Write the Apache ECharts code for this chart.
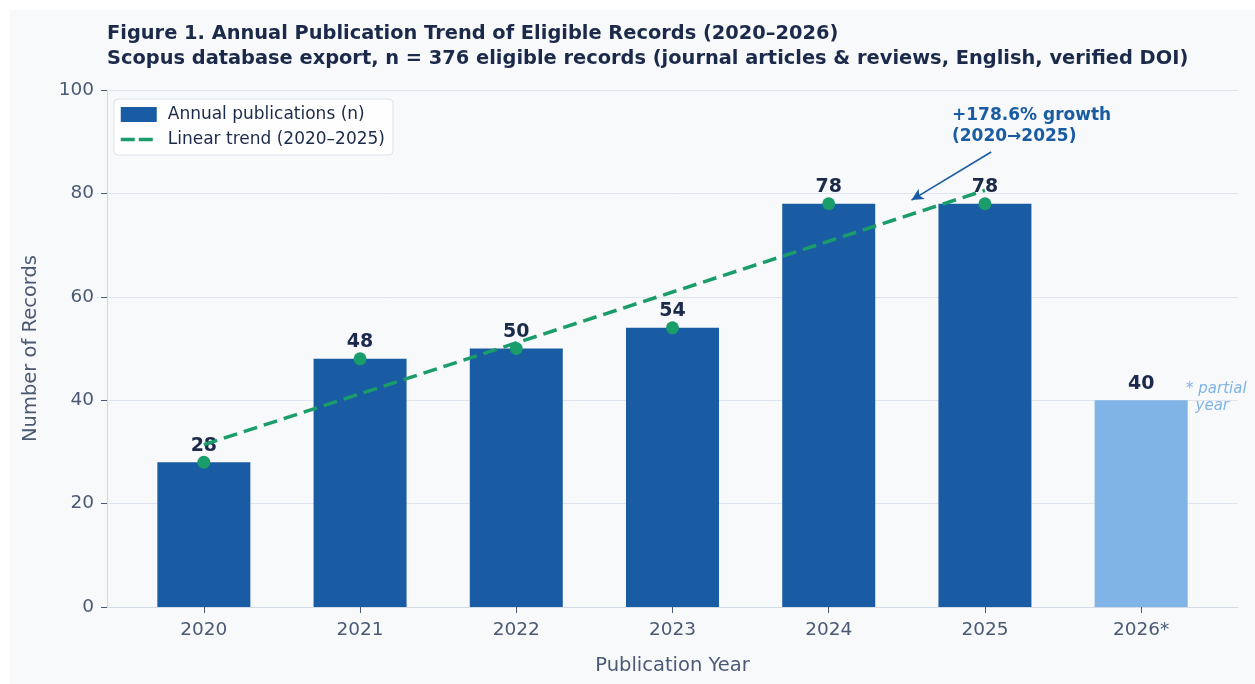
<!DOCTYPE html>
<html>
<head>
<meta charset="utf-8">
<script src="https://cdn.jsdelivr.net/npm/echarts@6/dist/echarts.min.js"></script>
<style>
  html, body { margin: 0; padding: 0; background: #ffffff; }
  #chart { position: absolute; left: 10px; top: 10px; width: 1245px; height: 674px; background: #f8f9fa; }
</style>
</head>
<body>
<div id="chart"></div>
<script>
// data
const years = ['2020', '2021', '2022', '2023', '2024', '2025', '2026*']
const records = [28, 48, 50, 54, 78, 78, 40]
const partialIndex = 6
// linear trend end points (2020 and 2025)
const trendPoints = [[0, 31.4], [5, 80.6]]
// growth arrow, tail and head in data coords
const arrowFrom = [5.04, 88.0]
const arrowTo = [4.53, 78.7]

const font = 'DejaVu Sans'
const navy = '#1b2a4a'
const tickGrey = '#4a5a75'
const blue = '#1a5ca3'
const lightBlue = '#80b4e6'
const green = '#1a9c6b'

let myChart = echarts.init(document.getElementById('chart'))

let barData = records.map((v, i) => ({
  value: [i, v],
  itemStyle: { color: i === partialIndex ? lightBlue : blue }
}))
let dotData = records.slice(0, partialIndex).map((v, i) => [i, v])
let tickValues = years.map((y, i) => i)

myChart.setOption({
  backgroundColor: '#f8f9fa',
  textStyle: { fontFamily: font },
  animation: false,
  title: {
    left: 92,
    top: 6,
    text: 'Figure 1. Annual Publication Trend of Eligible Records (2020–2026)\nScopus database export, n = 376 eligible records (journal articles & reviews, English, verified DOI)',
    textStyle: {
      fontFamily: font,
      fontSize: 19.4,
      fontWeight: 'bold',
      color: navy,
      lineHeight: 25
    }
  },
  legend: {
    left: 104,
    top: 89,
    orient: 'vertical',
    itemWidth: 36,
    itemHeight: 15,
    itemGap: 8,
    padding: [7, 8, 7, 5],
    backgroundColor: 'rgba(255,255,255,0.85)',
    borderColor: '#dde3ea',
    borderWidth: 1,
    borderRadius: 4,
    textStyle: { fontFamily: font, fontSize: 17, color: navy, padding: [0, 0, 0, 6] },
    data: [
      { name: 'Annual publications (n)', icon: 'rect', itemStyle: { color: blue } },
      {
        name: 'Linear trend (2020–2025)',
        itemStyle: { opacity: 0 },
        lineStyle: { color: green, width: 3.5, type: [14, 4] }
      }
    ]
  },
  grid: { left: 97, top: 80, right: 17, bottom: 77 },
  xAxis: {
    type: 'value',
    min: -0.62,
    max: 6.62,
    name: 'Publication Year',
    nameLocation: 'middle',
    nameGap: 49,
    nameTextStyle: { fontFamily: font, fontSize: 19.5, color: tickGrey },
    axisLine: { show: true, onZero: false, lineStyle: { color: '#d3dbe6', width: 1.2 } },
    axisTick: { show: true, length: 6, lineStyle: { color: tickGrey }, customValues: tickValues },
    axisLabel: {
      fontFamily: font,
      fontSize: 18.5,
      color: tickGrey,
      margin: 14,
      customValues: tickValues,
      formatter: v => years[Math.round(v)]
    },
    splitLine: { show: false }
  },
  yAxis: {
    type: 'value',
    min: 0,
    max: 100,
    interval: 20,
    name: 'Number of Records',
    nameLocation: 'middle',
    nameGap: 66,
    nameTextStyle: { fontFamily: font, fontSize: 19.5, color: tickGrey },
    axisLine: { show: true, onZero: false, lineStyle: { color: '#d3dbe6', width: 1.2 } },
    axisTick: { show: true, length: 6, lineStyle: { color: tickGrey } },
    axisLabel: { fontFamily: font, fontSize: 18.5, color: tickGrey, margin: 13 },
    splitLine: { lineStyle: { color: '#dfe5ee', width: 1 } }
  },
  series: [
    {
      name: 'Annual publications (n)',
      type: 'bar',
      barWidth: 93,
      data: barData,
      label: {
        show: true,
        position: 'top',
        distance: 7,
        fontFamily: font,
        fontSize: 19,
        fontWeight: 'bold',
        color: navy,
        formatter: p => p.value[1]
      },
      z: 2
    },
    {
      name: 'Linear trend (2020–2025)',
      type: 'line',
      data: trendPoints,
      symbol: 'none',
      lineStyle: { color: green, width: 3.5, type: [14, 7] },
      itemStyle: { color: green },
      z: 4
    },
    {
      name: 'dots',
      type: 'scatter',
      data: dotData,
      symbolSize: 13,
      itemStyle: { color: green, opacity: 1 },
      z: 5,
      markLine: {
        silent: true,
        symbol: ['none', 'arrow'],
        symbolSize: [9, 12],
        label: { show: false },
        lineStyle: { color: blue, width: 1.6, type: 'solid' },
        data: [[{ coord: arrowFrom }, { coord: arrowTo }]]
      }
    }
  ],
  graphic: [
    {
      type: 'text',
      left: 942,
      top: 95,
      style: {
        text: '+178.6% growth\n(2020→2025)',
        font: 'bold 17px "DejaVu Sans"',
        fill: blue,
        lineHeight: 21
      }
    },
    {
      type: 'text',
      left: 1176,
      top: 371,
      style: {
        text: '* partial\n  year',
        font: 'italic 15px "DejaVu Sans"',
        fill: lightBlue,
        lineHeight: 17
      }
    }
  ]
})
</script>
</body>
</html>
